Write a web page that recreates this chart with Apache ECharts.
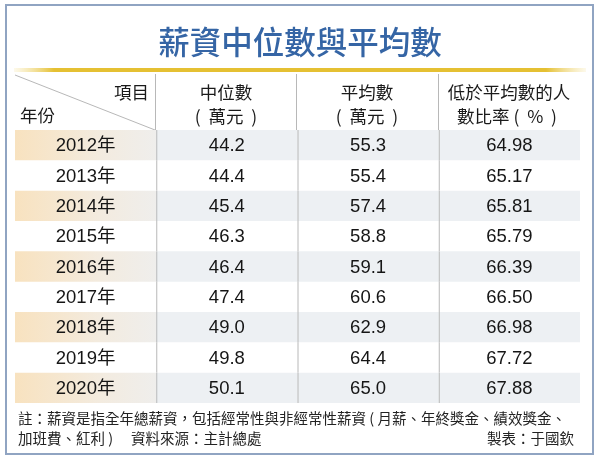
<!DOCTYPE html>
<html>
<head>
<meta charset="utf-8">
<script src="https://cdn.jsdelivr.net/npm/echarts@6/dist/echarts.min.js"></script>
<style>
html,body{margin:0;padding:0;background:#fff}
#main{width:600px;height:459px}
</style>
</head>
<body>
<div id="main"></div>
<script>
// 表格数据
var years = ['2012年','2013年','2014年','2015年','2016年','2017年','2018年','2019年','2020年']
var median = [44.2,44.4,45.4,46.3,46.4,47.4,49.0,49.8,50.1]
var mean = [55.3,55.4,57.4,58.8,59.1,60.6,62.9,64.4,65.0]
var belowRatio = [64.98,65.17,65.81,65.79,66.39,66.50,66.98,67.72,67.88]
var columns = ['年份','中位數','平均數','低於平均數的人數比率']

var CJK = "'Noto Sans CJK TC','Noto Sans CJK SC',sans-serif"
var NUM = "'Liberation Sans','Noto Sans CJK TC',sans-serif"

var cells = []
for (var r = 0; r < years.length; r++) {
	for (var c = 0; c < columns.length; c++) {
		cells.push([c, r])
	}
}

function cellText(c, r) {
	if (c == 0) return years[r]
	if (c == 1) return median[r].toFixed(1)
	if (c == 2) return mean[r].toFixed(1)
	return belowRatio[r].toFixed(2)
}

var myChart = echarts.init(document.getElementById('main'))

var stripeYear = new echarts.graphic.LinearGradient(0, 0, 1, 0, [
	{offset: 0, color: '#f8e2bf'},
	{offset: 0.6, color: '#f3ebdf'},
	{offset: 1, color: '#efeeec'}
])

myChart.setOption({
	backgroundColor: '#fff',
	animation: false,
	grid: {left: 15, right: 20, top: 130, bottom: 56},
	xAxis: {type: 'category', data: columns, show: false},
	yAxis: {type: 'category', data: years, inverse: true, show: false},
	series: [{
		type: 'custom',
		data: cells,
		renderItem: function (params, api) {
			var c = api.value(0), r = api.value(1)
			var p = api.coord([c, r])
			var s = api.size([1, 1])
			var x0 = p[0] - s[0] / 2, y0 = p[1] - s[1] / 2
			var children = []
			if (r % 2 == 0) {
				children.push({
					type: 'rect',
					shape: {x: x0, y: y0, width: s[0], height: s[1]},
					style: {fill: c == 0 ? stripeYear : '#edf0f3'}
				})
			}
			if (c > 0) {
				children.push({
					type: 'line',
					shape: {x1: x0 + 0.5, y1: y0, x2: x0 + 0.5, y2: y0 + s[1]},
					style: {stroke: '#b8b8b8', lineWidth: 1}
				})
			}
			children.push({
				type: 'text',
				style: {
					text: cellText(c, r), x: p[0], y: p[1] + 1,
					align: 'center', verticalAlign: 'middle',
					font: '18.5px ' + NUM, fill: '#151515'
				}
			})
			return {type: 'group', children: children}
		}
	}],
	graphic: [
		// 外框
		{type: 'rect', shape: {x: 6, y: 5, width: 587, height: 449},
			style: {fill: 'none', stroke: '#90a4c2', lineWidth: 2}},
		// 标题
		{type: 'text', style: {text: '薪資中位數與平均數', x: 300, y: 42, align: 'center', verticalAlign: 'middle',
			font: '500 31.5px ' + CJK, fill: '#3565a5'}},
		// 金色分隔线
		{type: 'rect', shape: {x: 14, y: 68, width: 572, height: 4},
			style: {fill: new echarts.graphic.LinearGradient(0, 0, 1, 0, [
				{offset: 0, color: 'rgba(240,215,120,0.15)'},
				{offset: 0.07, color: '#e5c032'},
				{offset: 0.93, color: '#e5c032'},
				{offset: 1, color: 'rgba(240,215,120,0.15)'}
			])}},
		// 表头线
		{type: 'line', shape: {x1: 15, y1: 75, x2: 155, y2: 130}, style: {stroke: '#b8b8b8', lineWidth: 1}},
		{type: 'line', shape: {x1: 155.5, y1: 74, x2: 155.5, y2: 130}, style: {stroke: '#b8b8b8', lineWidth: 1}},
		{type: 'line', shape: {x1: 296.5, y1: 74, x2: 296.5, y2: 130}, style: {stroke: '#b8b8b8', lineWidth: 1}},
		{type: 'line', shape: {x1: 438.5, y1: 74, x2: 438.5, y2: 130}, style: {stroke: '#b8b8b8', lineWidth: 1}},
		// 表头文字
		{type: 'text', style: {text: '項目', x: 149, y: 92, align: 'right', verticalAlign: 'middle', font: '17.5px ' + CJK, fill: '#1a1a1a'}},
		{type: 'text', style: {text: '年份', x: 20, y: 115, align: 'left', verticalAlign: 'middle', font: '17.5px ' + CJK, fill: '#1a1a1a'}},
		{type: 'text', style: {text: '中位數', x: 226, y: 92, align: 'center', verticalAlign: 'middle', font: '17.5px ' + CJK, fill: '#1a1a1a'}},
		{type: 'text', style: {text: '(  萬元  )', x: 226, y: 116, align: 'center', verticalAlign: 'middle', font: '17.5px ' + CJK, fill: '#1a1a1a'}},
		{type: 'text', style: {text: '平均數', x: 367, y: 92, align: 'center', verticalAlign: 'middle', font: '17.5px ' + CJK, fill: '#1a1a1a'}},
		{type: 'text', style: {text: '(  萬元  )', x: 367, y: 116, align: 'center', verticalAlign: 'middle', font: '17.5px ' + CJK, fill: '#1a1a1a'}},
		{type: 'text', style: {text: '低於平均數的人', x: 509, y: 92, align: 'center', verticalAlign: 'middle', font: '17.5px ' + CJK, fill: '#1a1a1a'}},
		{type: 'text', style: {text: '數比率 (  %  )', x: 507, y: 116, align: 'center', verticalAlign: 'middle', font: '17.5px ' + CJK, fill: '#1a1a1a'}},
		// 注释
		{type: 'text', style: {text: '註：薪資是指全年總薪資，包括經常性與非經常性薪資 ( 月薪、年終獎金、績效獎金、', x: 18, y: 418, align: 'left', verticalAlign: 'middle', font: '14.5px ' + CJK, fill: '#222'}},
		{type: 'text', style: {text: '加班費、紅利 )　 資料來源：主計總處', x: 18, y: 438, align: 'left', verticalAlign: 'middle', font: '14.5px ' + CJK, fill: '#222'}},
		{type: 'text', style: {text: '製表：于國欽', x: 574, y: 438, align: 'right', verticalAlign: 'middle', font: '14.5px ' + CJK, fill: '#222'}}
	]
})
</script>
</body>
</html>
